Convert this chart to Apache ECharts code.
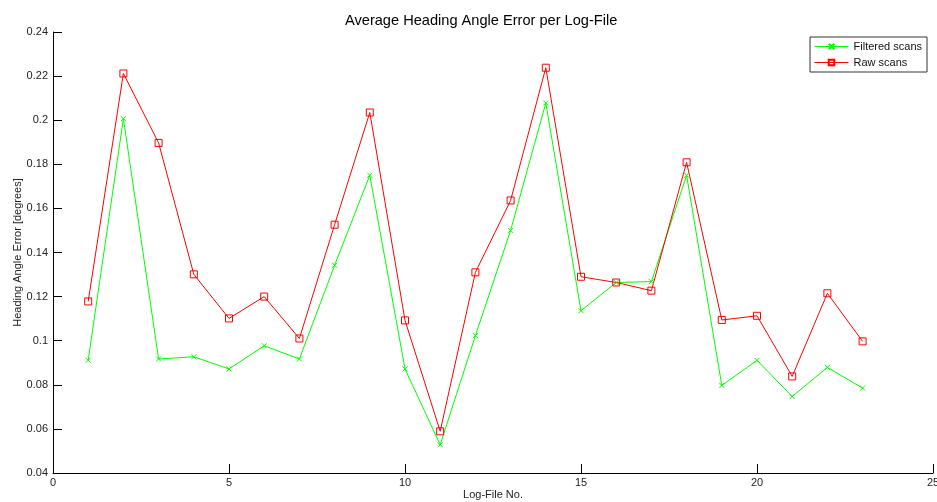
<!DOCTYPE html>
<html>
<head>
<meta charset="utf-8">
<script src="https://cdn.jsdelivr.net/npm/echarts@6/dist/echarts.min.js"></script>
<style>
  html, body { margin: 0; padding: 0; background: #fff; }
  #chart { width: 937px; height: 502px; }
</style>
</head>
<body>
<div id="chart"></div>
<script>
// Log-file numbers and the mean heading angle error of each run
const logFiles = [1, 2, 3, 4, 5, 6, 7, 8, 9, 10, 11, 12, 13, 14, 15, 16, 17, 18, 19, 20, 21, 22, 23];
const filteredScans = [0.0911, 0.2007, 0.0917, 0.0927, 0.0872, 0.0977, 0.0917, 0.1342, 0.1750, 0.0872,
  0.0528, 0.1023, 0.1500, 0.2078, 0.1136, 0.1264, 0.1268, 0.1750, 0.0797, 0.0911, 0.0747, 0.0879, 0.0785];
const rawScans = [0.1178, 0.2212, 0.1897, 0.1301, 0.1101, 0.1200, 0.1010, 0.1526, 0.2035, 0.1092,
  0.0589, 0.1310, 0.1636, 0.2238, 0.1290, 0.1264, 0.1227, 0.1809, 0.1094, 0.1113, 0.0838, 0.1215, 0.0997];

const FONT = 'Liberation Sans, Arial, sans-serif';
const crossSymbol = 'path://M0,0L10,10M10,0L0,10';
const squareSymbol = 'path://M0,0L10,0L10,10L0,10Z';

const chart = echarts.init(document.getElementById('chart'), null, { renderer: 'canvas' });
chart.setOption({
  backgroundColor: '#ffffff',
  animation: false,
  title: {
    text: 'Average Heading Angle Error per Log-File',
    left: 340,
    top: 8,
    textStyle: { fontFamily: FONT, fontSize: 14.6, fontWeight: 'normal', color: '#000' }
  },
  legend: {
    orient: 'vertical',
    right: 10,
    top: 37,
    itemWidth: 34,
    itemHeight: 7,
    itemGap: 5,
    padding: [4, 5, 4, 4],
    borderColor: '#333',
    borderWidth: 1,
    backgroundColor: '#fff',
    lineStyle: { width: 1 },
    textStyle: { fontFamily: FONT, fontSize: 11, color: '#111' },
    data: ['Filtered scans', 'Raw scans']
  },
  grid: { left: 53, right: 4, top: 32, bottom: 29, containLabel: false, outerBoundsMode: 'none' },
  xAxis: {
    type: 'value',
    min: 0,
    max: 25,
    interval: 5,
    name: 'Log-File No.',
    nameLocation: 'middle',
    nameGap: 16,
    nameMoveOverlap: false,
    nameTextStyle: { fontFamily: FONT, fontSize: 11, color: '#222' },
    axisLine: { lineStyle: { color: '#000', width: 1 } },
    axisTick: { inside: true, length: 9, lineStyle: { color: '#000' } },
    axisLabel: { fontFamily: FONT, fontSize: 11, color: '#222', margin: 4 },
    splitLine: { show: false }
  },
  yAxis: {
    type: 'value',
    min: 0.04,
    max: 0.24,
    interval: 0.02,
    name: 'Heading Angle Error [degrees]',
    nameLocation: 'middle',
    nameGap: 30,
    nameMoveOverlap: false,
    nameTextStyle: { fontFamily: FONT, fontSize: 11, color: '#222' },
    axisLine: { show: true, lineStyle: { color: '#000', width: 1 } },
    axisTick: { show: true, inside: true, length: 9, lineStyle: { color: '#000' } },
    axisLabel: { fontFamily: FONT, fontSize: 11, color: '#222', margin: 5 },
    splitLine: { show: false }
  },
  series: [
    {
      name: 'Filtered scans',
      type: 'line',
      data: logFiles.map((x, i) => [x, filteredScans[i]]),
      symbol: crossSymbol,
      symbolSize: 5,
      showAllSymbol: true,
      lineStyle: { color: '#00ff00', width: 1 },
      itemStyle: { color: 'rgba(0,0,0,0)', borderColor: '#00ff00', borderWidth: 1 },
      emphasis: { disabled: true }
    },
    {
      name: 'Raw scans',
      type: 'line',
      data: logFiles.map((x, i) => [x, rawScans[i]]),
      symbol: squareSymbol,
      symbolSize: 7,
      showAllSymbol: true,
      lineStyle: { color: '#ff0000', width: 1 },
      itemStyle: { color: 'rgba(0,0,0,0)', borderColor: '#ff0000', borderWidth: 1 },
      emphasis: { disabled: true }
    }
  ]
});
</script>
</body>
</html>
